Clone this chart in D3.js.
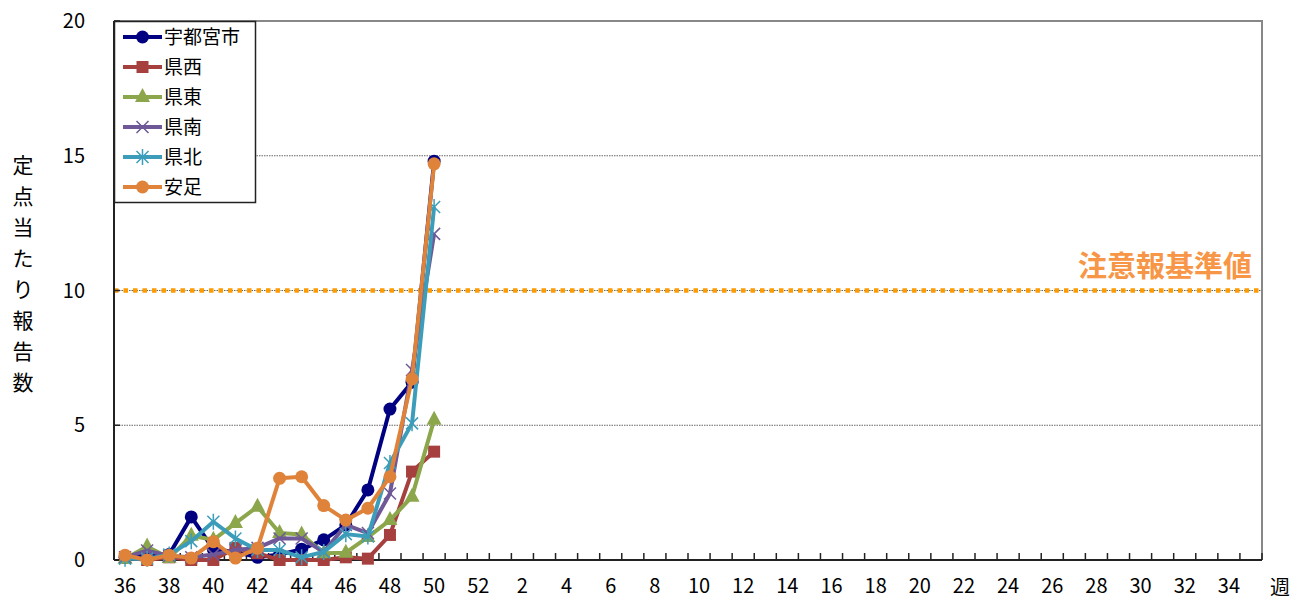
<!DOCTYPE html>
<html>
<head>
<meta charset="utf-8">
<script src="https://cdn.jsdelivr.net/npm/d3@7/dist/d3.min.js"></script>
<style>
  body { margin: 0; background: #fff; }
  svg { font-family: "Noto Sans CJK JP", "Noto Sans", sans-serif; }
</style>
</head>
<body>
<div id="chart"></div>
<script>
// weeks: 36..52 then 1..35
const weeks = d3.range(36, 53).concat(d3.range(1, 36)).map(String);
const yTicks = [0, 5, 10, 15, 20];
const threshold = 10;
const thresholdLabel = "注意報基準値";
const yTitle = "定点当たり報告数";
const xTitle = "週";

// values for weeks 36..50
const utsunomiya = [0.1, 0.2, 0.2, 1.6, 0.4, 0.3, 0.1, 0.2, 0.4, 0.75, 1.3, 2.6, 5.6, 6.6, 14.8];
const kensei     = [0.1, 0.0, 0.1, 0.0, 0.0, 0.45, 0.25, 0.0, 0.0, 0.0, 0.1, 0.05, 0.93, 3.28, 4.02];
const kentou     = [0.05, 0.5, 0.07, 0.9, 0.75, 1.37, 1.98, 1.0, 0.95, 0.25, 0.27, 0.85, 1.48, 2.35, 5.2];
const kennan     = [0.1, 0.35, 0.15, 0.1, 0.2, 0.37, 0.45, 0.8, 0.8, 0.3, 1.3, 1.0, 2.47, 7.05, 12.1];
const kenhoku    = [0.05, 0.05, 0.2, 0.7, 1.42, 0.8, 0.37, 0.37, 0.1, 0.3, 0.96, 0.87, 3.6, 5.07, 13.1];
const ashikaga   = [0.18, 0.0, 0.18, 0.07, 0.68, 0.07, 0.44, 3.03, 3.09, 2.02, 1.48, 1.92, 3.09, 6.72, 14.7];

const series = [
  { name: "宇都宮市", values: utsunomiya, color: "#000080", marker: "circle" },
  { name: "県西", values: kensei, color: "#A5403E", marker: "square" },
  { name: "県東", values: kentou, color: "#8CA64C", marker: "triangle" },
  { name: "県南", values: kennan, color: "#6E5897", marker: "cross" },
  { name: "県北", values: kenhoku, color: "#3C9DBA", marker: "asterisk" },
  { name: "安足", values: ashikaga, color: "#E0833A", marker: "circle" }
];

const W = 1293, H = 601;
const plot = { left: 114, right: 1262, top: 21, bottom: 560 };

const svg = d3.select("#chart").append("svg")
  .attr("width", W).attr("height", H);

const x = d3.scaleBand().domain(weeks).range([plot.left, plot.right]);
const y = d3.scaleLinear().domain([0, 20]).range([plot.bottom, plot.top]);
const cx = w => x(w) + x.bandwidth() / 2;

// grid lines
svg.append("g").selectAll("line")
  .data(yTicks.filter(v => v > 0 && v < 20))
  .enter().append("line")
  .attr("x1", plot.left).attr("x2", plot.right)
  .attr("y1", d => y(d)).attr("y2", d => y(d))
  .attr("stroke", "#666").attr("stroke-width", 1)
  .attr("stroke-dasharray", "1.5,1");

// plot border (top / right)
svg.append("path")
  .attr("d", `M${plot.left},${plot.top}H${plot.right}V${plot.bottom}`)
  .attr("fill", "none").attr("stroke", "#888").attr("stroke-width", 2);

// threshold line
svg.append("line")
  .attr("x1", plot.left).attr("x2", plot.right)
  .attr("y1", y(threshold)).attr("y2", y(threshold))
  .attr("stroke", "#FF9A00").attr("stroke-width", 4.5)
  .attr("stroke-dasharray", "4.5,5");

svg.append("text")
  .attr("x", 1252).attr("y", 277)
  .attr("text-anchor", "end")
  .attr("fill", "#F79646").attr("font-size", 29).attr("font-weight", "bold")
  .text(thresholdLabel);

// axes
svg.append("line")
  .attr("x1", plot.left).attr("x2", plot.left)
  .attr("y1", plot.top).attr("y2", plot.bottom)
  .attr("stroke", "#222").attr("stroke-width", 2);
svg.append("line")
  .attr("x1", plot.left).attr("x2", plot.right)
  .attr("y1", plot.bottom).attr("y2", plot.bottom)
  .attr("stroke", "#222").attr("stroke-width", 2);

// y ticks (inside)
svg.append("g").selectAll("line")
  .data(yTicks).enter().append("line")
  .attr("x1", plot.left).attr("x2", plot.left + 6)
  .attr("y1", d => y(d)).attr("y2", d => y(d))
  .attr("stroke", "#222").attr("stroke-width", 1.5);

svg.append("g").selectAll("text")
  .data(yTicks).enter().append("text")
  .attr("x", 85).attr("y", d => y(d))
  .attr("dy", "0.35em")
  .attr("text-anchor", "end").attr("font-size", 20).attr("fill", "#000")
  .text(d => d);

// x ticks at band boundaries (inside)
const boundaries = weeks.map(w => x(w)).concat([plot.right]);
svg.append("g").selectAll("line")
  .data(boundaries).enter().append("line")
  .attr("x1", d => d).attr("x2", d => d)
  .attr("y1", plot.bottom).attr("y2", plot.bottom - 7)
  .attr("stroke", "#222").attr("stroke-width", 1.5);

svg.append("g").selectAll("text")
  .data(weeks.filter((w, i) => i % 2 === 0)).enter().append("text")
  .attr("x", d => cx(d)).attr("y", 586)
  .attr("dy", "0.35em")
  .attr("text-anchor", "middle").attr("font-size", 20).attr("fill", "#000")
  .text(d => d);

// titles
svg.append("text")
  .attr("x", 1280).attr("y", 588).attr("dy", "0.35em")
  .attr("text-anchor", "middle").attr("font-size", 20)
  .text(xTitle);

svg.append("g").selectAll("text")
  .data(yTitle.split("")).enter().append("text")
  .attr("x", 23).attr("y", (d, i) => 166 + i * 31)
  .attr("dy", "0.35em")
  .attr("text-anchor", "middle").attr("font-size", 21)
  .text(d => d);

// markers
function drawMarker(g, type, color) {
  if (type === "circle") {
    g.append("circle").attr("r", 6.5).attr("fill", color);
  } else if (type === "square") {
    g.append("rect").attr("x", -6).attr("y", -6).attr("width", 12).attr("height", 12).attr("fill", color);
  } else if (type === "triangle") {
    g.append("path").attr("d", "M0,-9L7.5,5L-7.5,5Z").attr("fill", color);
  } else if (type === "cross") {
    g.append("path").attr("d", "M-6,-6L6,6M-6,6L6,-6")
      .attr("stroke", color).attr("stroke-width", 1.5);
  } else if (type === "asterisk") {
    g.append("path").attr("d", "M-6,-6L6,6M-6,6L6,-6M0,-8V8")
      .attr("stroke", color).attr("stroke-width", 1.5);
  }
}

const line = d3.line()
  .x((d, i) => cx(weeks[i]))
  .y(d => y(d));

series.forEach(s => {
  const g = svg.append("g");
  g.append("path")
    .datum(s.values)
    .attr("d", line)
    .attr("fill", "none")
    .attr("stroke", s.color)
    .attr("stroke-width", 4)
    .attr("stroke-linejoin", "round");
  s.values.forEach((v, i) => {
    const m = g.append("g").attr("transform", `translate(${cx(weeks[i])},${y(v)})`);
    drawMarker(m, s.marker, s.color);
  });
});

// legend
const legend = svg.append("g");
legend.append("rect")
  .attr("x", 114.5).attr("y", 21.5).attr("width", 141).attr("height", 181)
  .attr("fill", "#fff").attr("stroke", "#222").attr("stroke-width", 1.5);

series.forEach((s, i) => {
  const ly = 37 + i * 30;
  const row = legend.append("g");
  row.append("line")
    .attr("x1", 123).attr("x2", 162).attr("y1", ly).attr("y2", ly)
    .attr("stroke", s.color).attr("stroke-width", 4);
  const m = row.append("g").attr("transform", `translate(142.5,${ly})`);
  drawMarker(m, s.marker, s.color);
  row.append("text")
    .attr("x", 164).attr("y", ly).attr("dy", "0.35em")
    .attr("font-size", 19).attr("fill", "#000")
    .text(s.name);
});
</script>
</body>
</html>
